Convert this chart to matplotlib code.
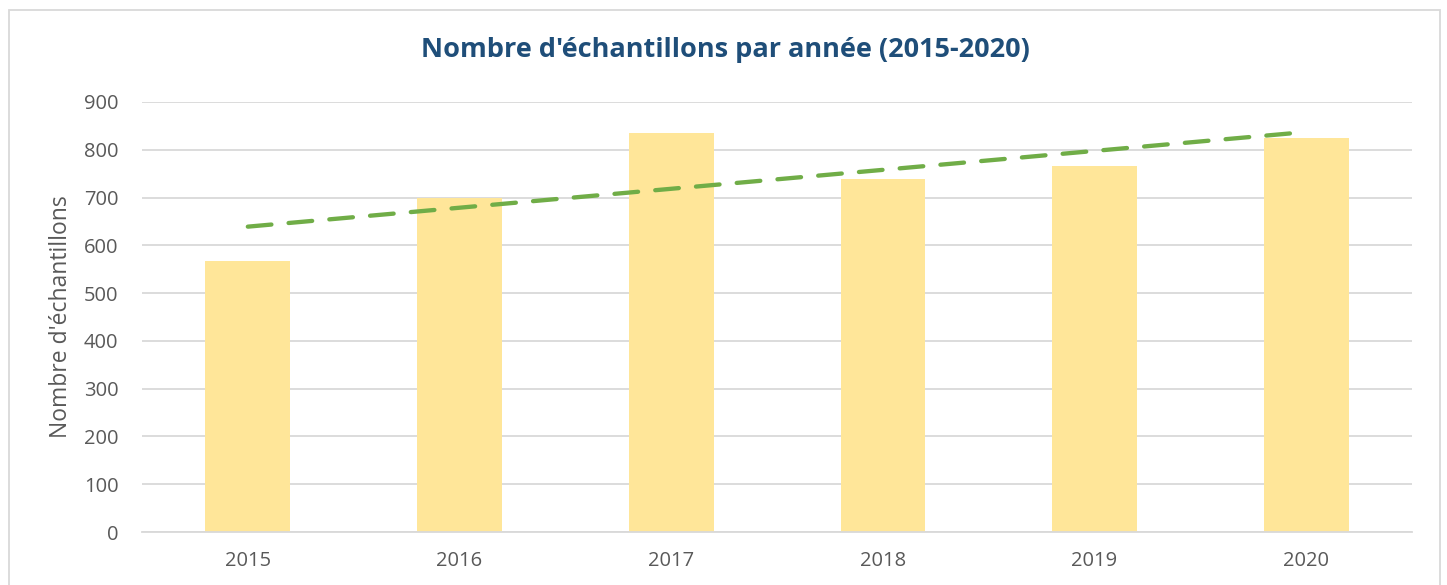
import numpy as np
import matplotlib
matplotlib.use("Agg")
import matplotlib.pyplot as plt
from matplotlib.patches import Rectangle

# ----------------------------
# Data
# ----------------------------
years = ["2015", "2016", "2017", "2018", "2019", "2020"]
samples = [567, 699, 835, 739, 765, 824]
y_ticks = [0, 100, 200, 300, 400, 500, 600, 700, 800, 900]

plt.rcParams['font.family'] = ['Open Sans', 'DejaVu Sans']

W, H = 1447, 585
fig = plt.figure(figsize=(W / 100, H / 100), dpi=100)
ax = fig.add_axes([142 / W, 53 / H, 1270 / W, 430 / H])

x = np.arange(len(years))
ax.bar(x, samples, width=0.4, color="#FFE699", zorder=2)

# linear trend line (like Excel's)
coef = np.polyfit(x, samples, 1)
ax.plot(x, np.polyval(coef, x), color="#70AD47", lw=3.1,
        dashes=(5.5, 4), dash_capstyle="round", zorder=3)

ax.set_xlim(-0.5, len(years) - 0.5)
ax.set_ylim(0, 900)
ax.set_yticks(y_ticks)
ax.set_xticks(x)
ax.set_xticklabels(years)
ax.yaxis.grid(True, color="#D9D9D9", lw=1.3, zorder=0)
ax.set_axisbelow(True)
for s in ["top", "right", "left"]:
    ax.spines[s].set_visible(False)
ax.spines["bottom"].set_color("#D9D9D9")
ax.spines["bottom"].set_linewidth(1.3)
ax.tick_params(length=0, labelsize=14.5, colors="#595959")
ax.tick_params(axis="x", pad=14)
ax.tick_params(axis="y", pad=17)

ax.set_ylabel("Nombre d'échantillons", fontsize=16.5, color="#595959", labelpad=8)

fig.text(725 / W, 1 - 50 / H, "Nombre d'échantillons par année (2015-2020)",
         ha="center", va="center", fontsize=19.5, fontweight="bold", color="#1F4E79")

# chart area border
fig.patches.append(Rectangle((9 / W, -0.1), (1440 - 9) / W, 1 - 10 / H + 0.1,
                             transform=fig.transFigure, fill=False,
                             edgecolor="#D9D9D9", lw=1.3))

fig.savefig("out.png", dpi=100)
